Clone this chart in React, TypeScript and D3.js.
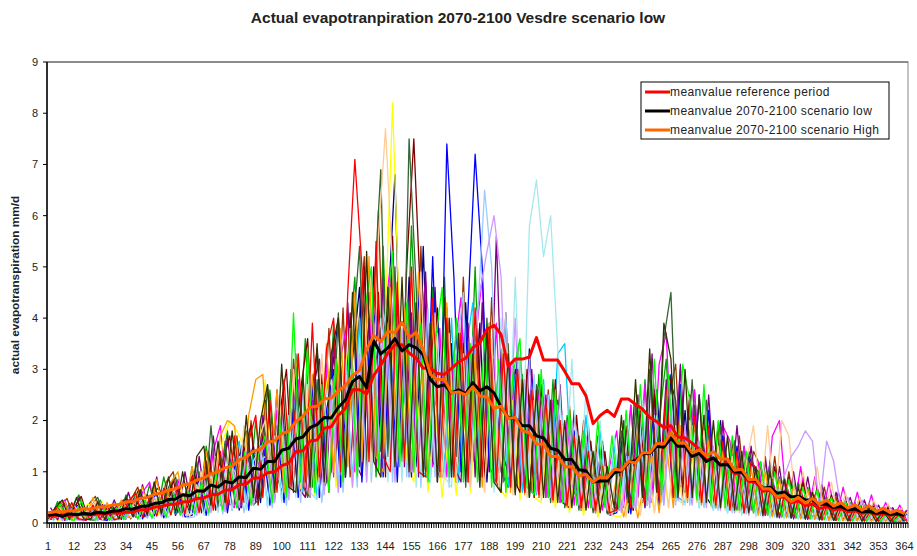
import React from "react";
import * as d3 from "d3";

const TITLE = "Actual evapotranpiration 2070-2100 Vesdre scenario low";
const Y_LABEL = "actual evapotranspiration mm/d";
const X_TICKS = [1, 12, 23, 34, 45, 56, 67, 78, 89, 100, 111, 122, 133, 144, 155, 166, 177, 188, 199, 210, 221, 232, 243, 254, 265, 276, 287, 298, 309, 320, 331, 342, 353, 364];
const Y_TICKS = [0, 1, 2, 3, 4, 5, 6, 7, 8, 9];
const DAY_STEP = 3;

const LEGEND_LABELS = ["meanvalue reference period", "meanvalue 2070-2100 scenario low", "meanvalue 2070-2100 scenario High"];
const MEAN_COLORS = ["#FF0000", "#000000", "#FF6600"];

const REF_MEAN = [
  0.15, 0.13, 0.16, 0.15, 0.16, 0.17, 0.15, 0.18, 0.17, 0.2,
  0.19, 0.21, 0.21, 0.26, 0.26, 0.31, 0.32, 0.36, 0.37, 0.41,
  0.42, 0.48, 0.49, 0.55, 0.56, 0.64, 0.65, 0.75, 0.76, 0.88,
  0.88, 0.98, 1.0, 1.12, 1.17, 1.39, 1.41, 1.6, 1.62, 1.85,
  1.88, 2.1, 2.24, 2.6, 2.6, 2.52, 2.88, 3.08, 3.32, 3.48,
  3.48, 3.32, 3.22, 3.02, 3.02, 2.92, 2.9, 3.02, 3.14, 3.22,
  3.42, 3.52, 3.78, 3.86, 3.68, 3.06, 3.2, 3.2, 3.24, 3.62,
  3.18, 3.18, 3.18, 2.96, 2.72, 2.72, 2.48, 1.94, 2.1, 2.2,
  2.08, 2.42, 2.42, 2.32, 2.22, 2.06, 1.98, 1.86, 1.9, 1.68,
  1.66, 1.56, 1.44, 1.23, 1.26, 1.13, 1.16, 0.96, 0.99, 0.81,
  0.79, 0.62, 0.64, 0.5, 0.51, 0.4, 0.43, 0.34, 0.37, 0.28,
  0.32, 0.26, 0.28, 0.22, 0.24, 0.19, 0.21, 0.17, 0.18, 0.15,
  0.17, 0.14,
];

const LOW_MEAN = [
  0.15, 0.17, 0.13, 0.18, 0.16, 0.19, 0.17, 0.21, 0.19, 0.23,
  0.24, 0.28, 0.27, 0.32, 0.33, 0.38, 0.4, 0.46, 0.47, 0.55,
  0.53, 0.63, 0.62, 0.74, 0.7, 0.81, 0.78, 0.9, 0.89, 1.07,
  1.05, 1.2, 1.2, 1.42, 1.46, 1.64, 1.68, 1.86, 1.92, 2.06,
  2.05, 2.26, 2.4, 2.76, 2.86, 2.64, 3.56, 3.3, 3.42, 3.6,
  3.36, 3.48, 3.42, 3.28, 2.8, 2.66, 2.7, 2.54, 2.6, 2.52,
  2.74, 2.58, 2.66, 2.54, 2.26, 2.06, 2.04, 1.9, 1.9, 1.7,
  1.66, 1.46, 1.42, 1.24, 1.24, 1.04, 1.02, 0.8, 0.82, 0.82,
  0.98, 1.02, 1.18, 1.22, 1.35, 1.36, 1.5, 1.48, 1.66, 1.5,
  1.5, 1.3, 1.36, 1.2, 1.27, 1.13, 1.14, 1.0, 0.99, 0.85,
  0.83, 0.68, 0.7, 0.58, 0.6, 0.51, 0.52, 0.45, 0.45, 0.36,
  0.37, 0.3, 0.32, 0.26, 0.27, 0.22, 0.23, 0.19, 0.21, 0.17,
  0.18, 0.15,
];

const HIGH_MEAN = [
  0.2, 0.22, 0.22, 0.24, 0.24, 0.28, 0.27, 0.31, 0.31, 0.35,
  0.36, 0.41, 0.42, 0.48, 0.5, 0.56, 0.58, 0.64, 0.67, 0.74,
  0.76, 0.84, 0.88, 0.96, 1.0, 1.08, 1.11, 1.23, 1.29, 1.4,
  1.44, 1.58, 1.6, 1.74, 1.8, 1.98, 2.08, 2.26, 2.28, 2.42,
  2.44, 2.58, 2.68, 2.88, 2.98, 3.38, 3.66, 3.54, 3.74, 3.72,
  3.92, 3.62, 3.72, 3.38, 2.9, 2.8, 2.8, 2.54, 2.56, 2.5,
  2.66, 2.48, 2.46, 2.24, 2.28, 2.04, 2.06, 1.8, 1.76, 1.54,
  1.54, 1.3, 1.3, 1.1, 1.1, 0.92, 0.95, 0.8, 0.9, 0.88,
  1.05, 1.03, 1.2, 1.17, 1.37, 1.37, 1.55, 1.54, 1.76, 1.56,
  1.56, 1.37, 1.43, 1.31, 1.39, 1.25, 1.25, 1.03, 1.05, 0.85,
  0.85, 0.67, 0.67, 0.5, 0.55, 0.42, 0.5, 0.39, 0.48, 0.36,
  0.45, 0.33, 0.4, 0.29, 0.36, 0.25, 0.34, 0.22, 0.29, 0.2,
  0.25, 0.18,
];

const YEAR_01 = [
  0.08, 0.42, 0.1, 0.3, 0.55, 0.12, 0.07, 0.45, 0.2, 0.09,
  0.35, 0.12, 0.6, 0.2, 0.75, 0.15, 0.9, 0.3, 0.65, 0.18,
  1.1, 0.3, 1.5, 0.45, 0.9, 1.8, 0.35, 1.3, 0.5, 2.0,
  0.6, 2.6, 0.9, 0.5, 3.0, 1.2, 3.6, 0.7, 2.8, 1.0,
  3.9, 1.0, 3.2, 4.8, 1.2, 4.2, 0.9, 5.4, 1.5, 4.4,
  1.3, 5.8, 2.4, 1.0, 4.6, 1.4, 4.0, 0.9, 3.7, 1.2,
  5.0, 1.1, 3.9, 0.8, 3.3, 0.7, 3.5, 1.0, 0.6, 2.9,
  0.5, 2.8, 0.4, 2.1, 0.6, 0.3, 1.9, 0.35, 1.6, 0.25,
  0.3, 0.9, 2.3, 0.5, 2.8, 0.4, 2.0, 3.2, 0.6, 2.5,
  0.5, 2.6, 0.4, 1.9, 0.3, 1.7, 0.9, 0.25, 1.5, 0.3,
  0.2, 1.2, 0.15, 0.9, 0.12, 0.8, 0.1, 0.7, 0.1, 0.6,
  0.08, 0.5, 0.07, 0.4, 0.06, 0.35, 0.1, 0.05, 0.3, 0.08, 0.06, 0.25,
];
const YEAR_02 = [
  0.1, 0.3, 0.48, 0.08, 0.07, 0.36, 0.52, 0.1, 0.09, 0.32,
  0.12, 0.45, 0.7, 0.15, 0.55, 0.2, 0.8, 1.0, 0.25, 0.6,
  0.2, 0.95, 0.4, 1.3, 0.3, 1.0, 1.7, 0.4, 2.0, 0.5,
  1.8, 0.4, 2.4, 0.6, 3.2, 0.9, 0.5, 2.8, 1.0, 3.8,
  1.2, 4.2, 0.9, 3.5, 5.2, 1.3, 6.1, 1.8, 4.9, 1.2,
  4.0, 1.0, 5.4, 1.6, 4.5, 1.0, 3.8, 1.3, 4.8, 1.1,
  3.4, 0.9, 4.4, 1.2, 0.8, 3.2, 0.7, 2.8, 1.0, 0.6,
  2.6, 0.7, 0.4, 2.3, 0.5, 2.0, 0.3, 1.7, 0.4, 0.25,
  0.3, 1.9, 0.25, 2.2, 0.5, 2.6, 0.8, 2.4, 3.1, 0.7,
  2.5, 0.5, 2.1, 0.4, 1.9, 0.5, 0.3, 1.7, 0.3, 1.4,
  1.1, 0.2, 1.3, 0.15, 1.0, 0.12, 0.9, 0.15, 0.1, 0.7,
  0.1, 0.6, 0.08, 0.06, 0.5, 0.05, 0.4, 0.06, 0.35, 0.05, 0.3, 0.07,
];
const YEAR_03 = [
  0.05, 0.25, 0.06, 0.3, 0.1, 0.05, 0.28, 0.07, 0.35, 0.06,
  0.1, 0.08, 0.42, 0.12, 0.55, 0.14, 0.45, 0.65, 0.15, 0.58,
  0.18, 0.8, 0.2, 1.0, 0.3, 0.9, 1.3, 0.25, 1.1, 1.5,
  0.4, 1.8, 0.5, 2.4, 0.6, 2.9, 0.7, 2.2, 3.4, 0.8,
  2.8, 4.0, 0.9, 3.2, 4.6, 1.1, 5.0, 1.4, 4.1, 6.8,
  1.6, 4.8, 1.1, 5.4, 1.3, 4.2, 0.9, 3.5, 1.0, 4.3,
  1.2, 3.9, 0.8, 3.2, 1.0, 0.7, 3.0, 0.8, 3.4, 0.6,
  2.5, 0.5, 2.2, 0.35, 1.8, 0.3, 1.5, 0.25, 1.3, 0.2,
  0.25, 1.6, 0.2, 1.3, 2.2, 0.4, 2.6, 0.6, 2.9, 0.5,
  2.2, 0.4, 2.5, 0.5, 0.3, 2.0, 0.3, 1.6, 0.25, 1.3,
  1.0, 0.15, 1.2, 0.12, 0.9, 0.1, 0.8, 0.08, 0.6, 0.07,
  0.5, 0.06, 0.45, 0.05, 0.4, 0.04, 0.3, 0.06, 0.04, 0.3, 0.05, 0.04,
];
const YEAR_04 = [
  0.06, 0.3, 0.45, 0.07, 0.32, 0.05, 0.26, 0.38, 0.06, 0.3,
  0.08, 0.45, 0.12, 0.6, 0.8, 0.14, 0.65, 0.16, 0.85, 0.2,
  0.25, 1.0, 0.2, 1.4, 1.9, 0.4, 0.3, 1.5, 0.35, 1.2,
  1.7, 0.4, 2.2, 0.5, 1.9, 2.8, 0.6, 2.4, 0.5, 3.1,
  0.9, 3.2, 4.0, 1.0, 3.4, 4.5, 1.1, 3.8, 5.0, 1.3,
  4.1, 1.0, 3.6, 4.7, 1.1, 3.8, 0.9, 3.3, 4.4, 1.0,
  3.5, 4.8, 1.0, 3.9, 0.8, 3.1, 0.7, 2.8, 0.6, 2.6,
  0.5, 2.4, 0.4, 2.0, 0.35, 1.6, 0.3, 1.4, 0.25, 1.1,
  1.8, 0.3, 2.3, 0.5, 2.7, 0.6, 3.1, 3.7, 0.8, 3.0,
  0.6, 2.6, 0.5, 2.2, 0.4, 1.9, 1.6, 0.3, 1.5, 0.25,
  1.2, 0.2, 1.7, 2.0, 0.4, 0.2, 1.1, 0.15, 0.9, 0.1,
  0.8, 0.08, 0.7, 0.07, 0.6, 0.06, 0.55, 0.05, 0.4, 0.05, 0.35, 0.05,
];
const YEAR_05 = [
  0.08, 0.05, 0.3, 0.06, 0.25, 0.38, 0.07, 0.4, 0.08, 0.3,
  0.4, 0.1, 0.5, 0.12, 0.6, 0.15, 0.7, 0.2, 0.62, 0.8,
  0.2, 0.9, 1.3, 0.3, 1.6, 2.0, 1.8, 1.5, 0.4, 1.2,
  2.8, 0.6, 2.3, 0.5, 1.9, 0.6, 2.6, 0.5, 2.1, 3.0,
  0.7, 2.6, 3.8, 0.9, 3.3, 4.5, 1.0, 4.0, 8.2, 3.8,
  1.2, 0.8, 2.8, 0.6, 2.3, 0.5, 1.9, 0.55, 2.2, 0.6,
  2.6, 0.6, 3.2, 0.7, 0.5, 2.4, 0.45, 1.9, 0.5, 0.4,
  1.7, 0.3, 1.4, 0.2, 1.1, 0.15, 0.9, 0.12, 0.7, 0.15,
  0.12, 0.2, 0.8, 0.15, 1.0, 0.2, 1.3, 0.3, 1.6, 0.35,
  1.8, 0.4, 2.1, 0.5, 1.8, 0.4, 1.5, 0.3, 1.2, 0.25,
  0.2, 1.0, 0.15, 0.8, 0.12, 0.65, 0.1, 0.5, 0.08, 0.45,
  0.06, 0.35, 0.05, 0.3, 0.05, 0.25, 0.04, 0.2, 0.05, 0.04, 0.2, 0.04,
];
const YEAR_06 = [
  0.05, 0.2, 0.32, 0.06, 0.25, 0.07, 0.28, 0.05, 0.22, 0.06,
  0.3, 0.1, 0.26, 0.45, 0.1, 0.5, 0.15, 0.6, 0.18, 0.5,
  0.7, 0.2, 0.85, 0.25, 1.1, 0.3, 1.0, 1.6, 0.3, 1.3,
  1.5, 0.35, 1.9, 0.45, 1.7, 2.4, 0.6, 2.1, 0.5, 1.8,
  2.5, 0.7, 3.2, 0.8, 4.0, 1.0, 3.5, 0.9, 3.9, 1.1,
  3.7, 0.9, 4.3, 1.0, 0.8, 3.5, 1.0, 4.0, 0.8, 3.3,
  4.3, 1.1, 3.8, 0.8, 3.4, 0.7, 2.9, 0.6, 2.5, 0.55,
  2.8, 0.6, 3.3, 3.5, 0.8, 0.5, 2.1, 0.4, 1.8, 0.3,
  1.5, 0.25, 1.7, 0.3, 2.2, 0.45, 1.9, 0.4, 2.3, 0.5,
  0.4, 2.0, 0.3, 1.6, 0.25, 1.3, 0.2, 1.2, 0.18, 1.0,
  0.15, 0.9, 0.12, 0.75, 0.1, 0.6, 0.08, 0.55, 0.07, 0.45,
  0.35, 0.06, 0.38, 0.05, 0.3, 0.04, 0.25, 0.04, 0.2, 0.04, 0.18, 0.04,
];
const YEAR_07 = [
  0.3, 0.06, 0.4, 0.07, 0.5, 0.1, 0.06, 0.36, 0.08, 0.45,
  0.1, 0.6, 0.12, 0.75, 0.15, 0.9, 0.18, 0.8, 0.2, 1.0,
  0.25, 1.3, 0.3, 1.7, 0.35, 1.7, 0.4, 0.3, 1.6, 0.4,
  2.1, 0.5, 2.6, 0.6, 3.0, 0.7, 0.5, 2.6, 3.2, 0.8,
  3.6, 1.0, 4.3, 1.2, 0.9, 4.0, 1.1, 4.8, 1.2, 4.4,
  1.1, 4.1, 0.9, 4.9, 1.2, 0.9, 4.2, 1.1, 0.8, 3.9,
  0.9, 4.3, 1.0, 5.6, 1.3, 0.8, 3.4, 0.6, 3.0, 0.55,
  2.5, 0.45, 2.7, 0.4, 2.2, 0.35, 1.8, 0.3, 1.5, 0.25,
  0.3, 2.0, 0.4, 2.5, 0.5, 3.3, 0.6, 2.8, 0.5, 3.1,
  0.6, 2.3, 0.5, 2.5, 0.4, 2.0, 0.35, 1.9, 0.3, 1.5,
  0.2, 1.3, 0.15, 1.1, 0.12, 1.0, 0.1, 0.9, 0.08, 0.75,
  0.06, 0.6, 0.05, 0.5, 0.05, 0.45, 0.04, 0.35, 0.04, 0.3, 0.04, 0.25,
];
const YEAR_08 = [
  0.09, 0.42, 0.06, 0.3, 0.52, 0.08, 0.05, 0.36, 0.07, 0.33,
  0.45, 0.08, 0.62, 0.12, 0.55, 0.7, 0.14, 0.85, 0.18, 0.7,
  1.0, 0.2, 1.4, 0.25, 1.2, 1.7, 0.3, 1.4, 1.9, 0.35,
  2.4, 0.5, 2.1, 3.0, 0.6, 2.6, 3.6, 0.7, 2.9, 0.6,
  3.4, 0.8, 4.1, 1.0, 5.0, 1.1, 4.5, 0.9, 5.6, 1.3,
  5.0, 7.5, 4.2, 1.0, 4.6, 0.9, 4.0, 0.8, 3.5, 0.9,
  3.8, 0.8, 3.4, 0.7, 4.1, 0.9, 0.6, 3.0, 0.5, 2.7,
  0.5, 2.8, 0.4, 0.3, 2.1, 0.3, 1.6, 0.25, 1.4, 0.2,
  0.25, 1.8, 0.25, 2.1, 0.35, 2.5, 0.5, 2.9, 2.4, 0.5,
  2.5, 0.45, 2.1, 0.35, 1.9, 0.3, 1.6, 0.25, 1.4, 0.2,
  1.2, 0.15, 1.1, 0.12, 0.9, 0.1, 0.8, 0.08, 0.7, 0.07,
  0.55, 0.06, 0.45, 0.05, 0.4, 0.04, 0.33, 0.04, 0.3, 0.04, 0.25, 0.05,
];
const YEAR_09 = [
  0.05, 0.3, 0.07, 0.38, 0.1, 0.06, 0.32, 0.5, 0.07, 0.3,
  0.1, 0.55, 0.12, 0.6, 0.15, 0.8, 0.16, 0.7, 0.9, 0.2,
  0.25, 1.2, 0.2, 1.9, 0.3, 1.6, 0.25, 1.3, 1.8, 0.35,
  0.5, 2.7, 0.45, 2.3, 0.6, 3.3, 0.7, 0.5, 2.8, 0.7,
  1.0, 4.1, 0.9, 3.6, 5.4, 1.1, 4.4, 6.9, 1.3, 5.0,
  1.2, 7.5, 4.6, 1.0, 3.9, 0.8, 4.8, 0.9, 3.8, 0.7,
  3.4, 0.8, 4.0, 0.9, 0.6, 3.5, 0.6, 2.9, 0.5, 2.7,
  2.2, 0.4, 2.4, 0.3, 1.9, 0.25, 1.6, 0.2, 1.2, 0.18,
  0.2, 1.8, 0.25, 2.3, 0.4, 3.0, 0.6, 3.6, 4.5, 0.8,
  0.6, 2.8, 0.4, 2.4, 0.3, 1.9, 0.3, 1.6, 0.2, 1.4,
  1.0, 0.15, 1.1, 0.12, 0.9, 0.1, 0.75, 0.08, 0.6, 0.06,
  0.5, 0.05, 0.42, 0.04, 0.38, 0.04, 0.3, 0.04, 0.25, 0.04, 0.03, 0.22,
];
const YEAR_10 = [
  0.06, 0.26, 0.05, 0.24, 0.36, 0.06, 0.3, 0.07, 0.05, 0.27,
  0.07, 0.35, 0.5, 0.08, 0.45, 0.55, 0.1, 0.48, 0.65, 0.12,
  0.15, 0.9, 0.15, 0.85, 1.2, 0.2, 1.1, 1.4, 0.25, 1.3,
  1.6, 0.35, 1.9, 0.4, 2.3, 0.5, 2.0, 2.7, 0.5, 2.2,
  3.0, 0.7, 2.8, 3.7, 0.8, 3.3, 4.2, 0.9, 3.6, 0.8,
  4.0, 0.9, 4.6, 1.0, 5.2, 1.2, 7.4, 4.8, 1.0, 4.2,
  7.2, 5.0, 1.1, 0.8, 3.6, 0.7, 3.2, 0.6, 2.8, 0.5,
  2.4, 0.45, 2.0, 0.35, 1.8, 0.25, 1.4, 0.2, 1.1, 0.15,
  0.2, 1.4, 0.18, 1.6, 0.3, 2.0, 0.35, 2.4, 0.5, 2.7,
  0.5, 2.0, 0.45, 2.2, 0.35, 1.7, 0.3, 1.5, 0.2, 1.2,
  1.0, 0.15, 0.9, 0.1, 0.75, 0.08, 0.65, 0.07, 0.5, 0.06,
  0.42, 0.05, 0.35, 0.04, 0.3, 0.04, 0.26, 0.03, 0.2, 0.04, 0.03, 0.18,
];
const YEAR_11 = [
  0.04, 0.2, 0.05, 0.24, 0.05, 0.22, 0.04, 0.25, 0.05, 0.28,
  0.06, 0.32, 0.07, 0.4, 0.08, 0.48, 0.09, 0.45, 0.55, 0.1,
  0.12, 0.7, 0.15, 0.9, 0.18, 0.85, 1.1, 0.2, 1.0, 1.2,
  1.3, 0.3, 1.6, 0.35, 1.9, 0.4, 2.3, 1.8, 0.4, 2.0,
  2.6, 0.6, 3.0, 0.7, 3.6, 0.8, 3.2, 4.1, 0.8, 3.5,
  0.9, 3.8, 0.7, 4.2, 0.9, 3.6, 0.7, 3.3, 4.5, 0.8,
  4.0, 6.5, 5.0, 1.1, 4.1, 0.8, 3.3, 0.7, 2.9, 0.55,
  2.5, 0.5, 2.1, 0.35, 1.8, 0.3, 1.4, 0.25, 1.1, 0.2,
  0.25, 1.3, 0.3, 1.7, 0.35, 2.1, 0.4, 1.8, 0.35, 1.7,
  0.35, 1.6, 0.3, 1.3, 0.25, 1.2, 0.2, 1.0, 0.18, 0.9,
  0.15, 0.8, 0.12, 0.75, 0.1, 0.6, 0.08, 0.5, 0.07, 0.42,
  0.05, 0.36, 0.05, 0.3, 0.04, 0.25, 0.04, 0.22, 0.03, 0.18, 0.03, 0.15,
];
const YEAR_12 = [
  0.05, 0.22, 0.04, 0.18, 0.25, 0.05, 0.2, 0.04, 0.24, 0.05,
  0.06, 0.28, 0.35, 0.07, 0.38, 0.08, 0.45, 0.1, 0.42, 0.55,
  0.12, 0.75, 0.15, 0.95, 0.2, 1.0, 0.25, 1.3, 0.25, 1.2,
  1.5, 0.3, 1.7, 0.4, 2.1, 0.5, 2.5, 0.6, 0.45, 2.3,
  2.8, 0.6, 3.2, 0.7, 3.6, 0.8, 3.0, 4.0, 0.8, 3.4,
  0.8, 3.6, 0.7, 3.2, 0.8, 3.7, 0.9, 0.7, 3.4, 0.8,
  3.6, 0.7, 3.2, 0.6, 4.0, 0.9, 4.8, 1.0, 5.8, 6.7,
  5.2, 6.0, 3.4, 0.6, 3.2, 0.45, 2.6, 0.35, 2.0, 0.3,
  1.7, 0.25, 2.0, 0.3, 2.4, 0.4, 2.1, 0.35, 2.5, 0.45,
  0.35, 1.9, 0.3, 1.5, 0.25, 1.3, 0.2, 1.2, 0.15, 1.0,
  0.12, 0.9, 0.1, 0.75, 0.08, 0.65, 0.07, 0.55, 0.06, 0.45,
  0.05, 0.4, 0.04, 0.32, 0.04, 0.26, 0.03, 0.22, 0.03, 0.18, 0.03, 0.15,
];
const YEAR_13 = [
  0.07, 0.3, 0.42, 0.06, 0.35, 0.08, 0.5, 0.07, 0.4, 0.09,
  0.45, 0.12, 0.5, 0.7, 0.15, 0.85, 0.2, 0.8, 1.0, 0.25,
  1.1, 0.3, 1.4, 0.35, 1.7, 2.0, 1.9, 0.45, 2.1, 2.8,
  2.9, 0.7, 2.6, 0.6, 2.4, 3.3, 0.7, 2.9, 0.8, 3.5,
  1.0, 3.8, 1.1, 4.5, 1.2, 5.2, 1.3, 1.0, 4.6, 1.2,
  4.2, 1.0, 4.9, 1.1, 4.0, 0.9, 4.3, 1.0, 3.7, 0.8,
  3.3, 0.7, 3.9, 0.8, 3.4, 0.6, 3.0, 0.55, 2.6, 0.5,
  2.2, 0.4, 2.0, 0.3, 1.6, 0.25, 1.3, 0.2, 1.0, 0.15,
  0.9, 0.12, 0.8, 0.1, 0.9, 1.3, 0.2, 1.6, 0.3, 1.9,
  0.4, 2.0, 0.35, 1.6, 0.3, 1.4, 0.25, 1.3, 0.2, 1.1,
  0.15, 1.0, 0.12, 0.85, 0.1, 0.7, 0.08, 0.65, 0.07, 0.5,
  0.05, 0.42, 0.04, 0.36, 0.04, 0.3, 0.03, 0.26, 0.03, 0.22, 0.03, 0.2,
];
const YEAR_14 = [
  0.06, 0.3, 0.07, 0.36, 0.06, 0.28, 0.42, 0.06, 0.3, 0.07,
  0.4, 0.1, 0.35, 0.55, 0.12, 0.62, 0.14, 0.6, 0.75, 0.16,
  0.2, 1.0, 0.25, 1.3, 0.3, 1.5, 0.35, 1.9, 0.4, 1.6,
  2.0, 0.5, 2.5, 0.6, 3.0, 0.7, 2.7, 0.6, 3.3, 0.8,
  3.2, 0.8, 3.8, 0.9, 4.4, 1.0, 5.6, 7.7, 5.0, 1.2,
  4.3, 1.0, 4.9, 1.1, 4.1, 0.9, 3.7, 0.8, 3.3, 0.7,
  3.0, 0.6, 3.6, 0.7, 3.2, 0.55, 2.8, 0.5, 2.4, 0.45,
  2.2, 0.4, 1.9, 0.3, 1.6, 0.25, 1.3, 0.2, 1.1, 0.15,
  0.9, 0.12, 1.1, 0.15, 1.3, 0.2, 1.6, 0.3, 1.9, 0.35,
  2.0, 0.4, 1.8, 0.3, 1.5, 0.25, 1.3, 0.2, 1.2, 1.9,
  0.4, 1.9, 0.3, 2.0, 1.7, 0.3, 1.0, 0.2, 1.1, 0.12,
  0.8, 0.08, 0.6, 0.06, 0.5, 0.05, 0.45, 0.04, 0.38, 0.04, 0.3, 0.04,
];
const YEAR_15 = [
  0.05, 0.24, 0.05, 0.3, 0.06, 0.04, 0.28, 0.05, 0.22, 0.04,
  0.3, 0.08, 0.36, 0.45, 0.1, 0.5, 0.12, 0.48, 0.6, 0.12,
  0.7, 0.15, 0.9, 0.2, 1.0, 0.22, 1.2, 0.3, 1.4, 0.35,
  1.3, 1.7, 0.4, 2.1, 0.45, 1.9, 2.5, 0.5, 2.2, 0.55,
  2.5, 0.6, 2.9, 0.7, 3.3, 0.8, 3.8, 0.9, 3.5, 0.8,
  3.8, 0.9, 4.2, 1.0, 3.9, 0.8, 4.3, 1.0, 3.9, 0.8,
  3.6, 4.5, 5.3, 6.0, 4.8, 1.0, 4.0, 0.8, 3.2, 0.6,
  2.7, 0.5, 2.3, 0.4, 2.0, 0.35, 1.7, 0.3, 1.3, 0.25,
  1.2, 0.2, 1.3, 0.25, 1.8, 0.3, 2.0, 0.35, 2.3, 0.45,
  1.9, 0.35, 1.6, 0.3, 1.5, 0.25, 1.2, 0.2, 1.0, 0.15,
  0.9, 0.12, 0.8, 0.1, 0.9, 1.3, 1.5, 1.8, 1.6, 0.3,
  1.6, 1.2, 0.3, 0.5, 0.08, 0.45, 0.06, 0.35, 0.05, 0.3, 0.04, 0.22,
];
const YEAR_16 = [
  0.07, 0.32, 0.06, 0.4, 0.08, 0.05, 0.35, 0.07, 0.33, 0.06,
  0.1, 0.42, 0.58, 0.12, 0.5, 0.14, 0.68, 0.16, 0.72, 0.18,
  0.9, 0.2, 1.2, 0.25, 1.4, 0.3, 1.7, 0.35, 1.6, 2.1,
  0.5, 2.4, 0.6, 2.8, 0.7, 3.3, 0.8, 3.9, 0.9, 3.4,
  4.0, 1.0, 4.5, 7.1, 5.0, 1.2, 5.5, 1.3, 1.0, 4.7,
  1.2, 5.0, 1.0, 0.9, 4.4, 1.0, 4.0, 0.9, 3.7, 0.8,
  4.2, 0.9, 3.8, 0.8, 3.3, 0.7, 3.0, 0.6, 2.6, 0.55,
  2.4, 0.45, 2.0, 0.35, 1.7, 0.3, 1.4, 0.25, 1.1, 0.2,
  0.25, 1.5, 0.3, 1.9, 0.35, 2.3, 0.45, 2.6, 0.5, 2.3,
  0.5, 2.1, 0.4, 1.9, 0.35, 1.6, 0.25, 1.4, 0.2, 1.2,
  1.0, 0.15, 0.85, 0.12, 0.75, 0.1, 0.65, 0.08, 0.55, 0.06,
  0.45, 0.05, 0.38, 0.04, 0.32, 0.04, 0.26, 0.03, 0.22, 0.03, 0.18, 0.03,
];
const YEAR_17 = [
  0.06, 0.38, 0.08, 0.05, 0.44, 0.07, 0.06, 0.34, 0.05, 0.3,
  0.07, 0.36, 0.08, 0.45, 0.1, 0.5, 0.12, 0.6, 0.15, 0.65,
  0.18, 0.8, 0.2, 1.0, 0.25, 1.2, 0.3, 1.4, 0.35, 1.3,
  1.7, 0.4, 2.1, 0.5, 4.1, 0.8, 3.4, 0.6, 2.7, 0.6,
  3.2, 0.8, 3.7, 0.9, 4.1, 5.0, 1.0, 3.8, 5.3, 1.1,
  4.3, 1.0, 3.9, 0.8, 3.5, 4.6, 0.9, 4.0, 0.8, 3.5,
  0.8, 3.7, 0.7, 3.2, 0.6, 2.9, 3.6, 0.7, 0.55, 3.0,
  0.5, 2.6, 0.4, 2.2, 0.35, 1.8, 0.3, 2.0, 0.3, 1.7,
  0.3, 2.2, 0.35, 2.7, 0.45, 3.2, 0.55, 2.9, 0.5, 3.1,
  2.4, 0.45, 2.7, 0.35, 2.0, 0.3, 1.7, 0.25, 1.4, 0.2,
  1.2, 0.15, 1.0, 0.12, 0.85, 0.1, 0.7, 0.08, 0.65, 0.06,
  0.5, 0.05, 0.42, 0.04, 0.35, 0.04, 0.3, 0.03, 0.25, 0.03, 0.22, 0.03,
];
const YEAR_18 = [
  0.08, 0.3, 0.45, 0.07, 0.5, 0.08, 0.06, 0.42, 0.07, 0.36,
  0.08, 0.5, 0.12, 0.65, 0.15, 0.8, 0.18, 0.9, 0.2, 1.0,
  0.25, 1.3, 1.5, 0.35, 1.6, 0.4, 1.8, 0.45, 2.1, 0.5,
  2.0, 2.7, 0.6, 3.1, 0.7, 0.6, 2.9, 0.7, 3.5, 0.8,
  3.3, 4.0, 0.9, 4.5, 1.1, 5.3, 1.2, 0.9, 4.6, 1.1,
  4.8, 1.0, 4.3, 0.9, 3.9, 0.8, 4.4, 0.9, 3.7, 0.8,
  3.3, 0.7, 3.8, 0.8, 0.6, 3.3, 0.55, 2.8, 0.5, 2.6,
  0.5, 2.4, 0.4, 2.0, 0.3, 1.7, 0.25, 1.4, 0.2, 1.1,
  0.3, 2.1, 0.4, 2.8, 0.5, 3.4, 0.6, 3.9, 3.2, 0.5,
  3.0, 0.5, 2.5, 0.4, 2.0, 0.3, 1.7, 0.25, 1.4, 0.2,
  1.1, 0.15, 1.0, 0.12, 0.85, 0.1, 0.7, 0.08, 0.6, 0.06,
  0.45, 0.05, 0.38, 0.04, 0.32, 0.04, 0.28, 0.03, 0.23, 0.03, 0.2, 0.03,
];

const YEARS = [YEAR_01, YEAR_02, YEAR_03, YEAR_04, YEAR_05, YEAR_06, YEAR_07, YEAR_08, YEAR_09, YEAR_10, YEAR_11, YEAR_12, YEAR_13, YEAR_14, YEAR_15, YEAR_16, YEAR_17, YEAR_18];
const YEAR_OFFSETS = [1, 2, 0, 1, 2, 0, 1, 2, 0, 1, 2, 0, 1, 2, 0, 1, 2, 0];
const YEAR_COLORS = ["#00A000", "#993300", "#000080", "#FF00FF", "#FFFF00", "#00CCFF", "#800080", "#800000", "#336633", "#0000FF", "#99CCFF", "#A6E8F0", "#FF9900", "#FFCC99", "#CC99FF", "#FF0000", "#00FF00", "#333300"];

const W = 917;
const H = 556;
const M = { left: 47, right: 908, top: 62, bottom: 523 };
const FONT = "'Liberation Sans', Arial, sans-serif";

export default function App() {
  const x = d3.scaleLinear().domain([0.5, 365.5]).range([M.left, M.right]);
  const y = d3.scaleLinear().domain([0, 9]).range([M.bottom, M.top]);

  const toPts = (vals: number[], offset: number) =>
    vals
      .map((v, i) => [1 + offset + DAY_STEP * i, v] as [number, number])
      .filter((p) => p[0] <= 365);

  const line = d3
    .line<[number, number]>()
    .x((p) => x(p[0]))
    .y((p) => y(p[1]));

  const means = [REF_MEAN, LOW_MEAN, HIGH_MEAN];
  const dayTicks = d3.range(0, 366);

  return (
    <svg width={W} height={H} style={{ position: "absolute", left: 0, top: 0, background: "#fff" }} fontFamily={FONT}>
      <rect x={0} y={0} width={W} height={H} fill="#fff" />
      <text x={458} y={23} textAnchor="middle" fontSize={15.5} fontWeight="bold" fill="#222">
        {TITLE}
      </text>
      <defs>
        <clipPath id="plotclip">
          <rect x={M.left} y={M.top} width={M.right - M.left} height={M.bottom - M.top} />
        </clipPath>
      </defs>
      <rect x={M.left} y={M.top} width={M.right - M.left} height={M.bottom - M.top} fill="#fff" stroke="#888" strokeWidth={1} />
      <g clipPath="url(#plotclip)" fill="none" strokeLinejoin="round">
        {YEARS.map((vals, k) => (
          <path key={k} d={line(toPts(vals, YEAR_OFFSETS[k])) || ""} stroke={YEAR_COLORS[k]} strokeWidth={1.3} />
        ))}
        {means.map((vals, k) => (
          <path key={"m" + k} d={line(toPts(vals, 0)) || ""} stroke={MEAN_COLORS[k]} strokeWidth={3} />
        ))}
      </g>
      <line x1={M.left} x2={M.right} y1={M.top} y2={M.top} stroke="#555" strokeWidth={1} />
      <line x1={M.left} x2={M.left} y1={M.top} y2={M.bottom} stroke="#000" strokeWidth={1.5} />
      <line x1={M.left} x2={M.right} y1={M.bottom} y2={M.bottom} stroke="#000" strokeWidth={1.5} />
      {dayTicks.map((d) => (
        <line key={"t" + d} x1={x(d + 0.5)} x2={x(d + 0.5)} y1={M.bottom} y2={M.bottom + 5} stroke="#000" strokeWidth={1} />
      ))}
      {Y_TICKS.map((t) => (
        <g key={"y" + t}>
          <line x1={M.left - 4} x2={M.left} y1={y(t)} y2={y(t)} stroke="#000" />
          <text x={M.left - 9} y={y(t)} dy="0.35em" textAnchor="end" fontSize={11} fill="#222">
            {t}
          </text>
        </g>
      ))}
      {X_TICKS.map((t) => (
        <text key={"x" + t} x={x(t)} y={550} textAnchor="middle" fontSize={11} fill="#222">
          {t}
        </text>
      ))}
      <text transform={`translate(19,285) rotate(-90)`} textAnchor="middle" fontSize={11.8} fontWeight="bold" fill="#222">
        {Y_LABEL}
      </text>
      <rect x={641} y={82} width={248} height={57} fill="#fff" stroke="#000" strokeWidth={1} />
      {LEGEND_LABELS.map((lab, k) => (
        <g key={"l" + k}>
          <line x1={645} x2={670} y1={92 + k * 19} y2={92 + k * 19} stroke={MEAN_COLORS[k]} strokeWidth={3} />
          <text x={670} y={92 + k * 19} dy="0.35em" fontSize={12} letterSpacing={0.4} fill="#222">
            {lab}
          </text>
        </g>
      ))}
    </svg>
  );
}
